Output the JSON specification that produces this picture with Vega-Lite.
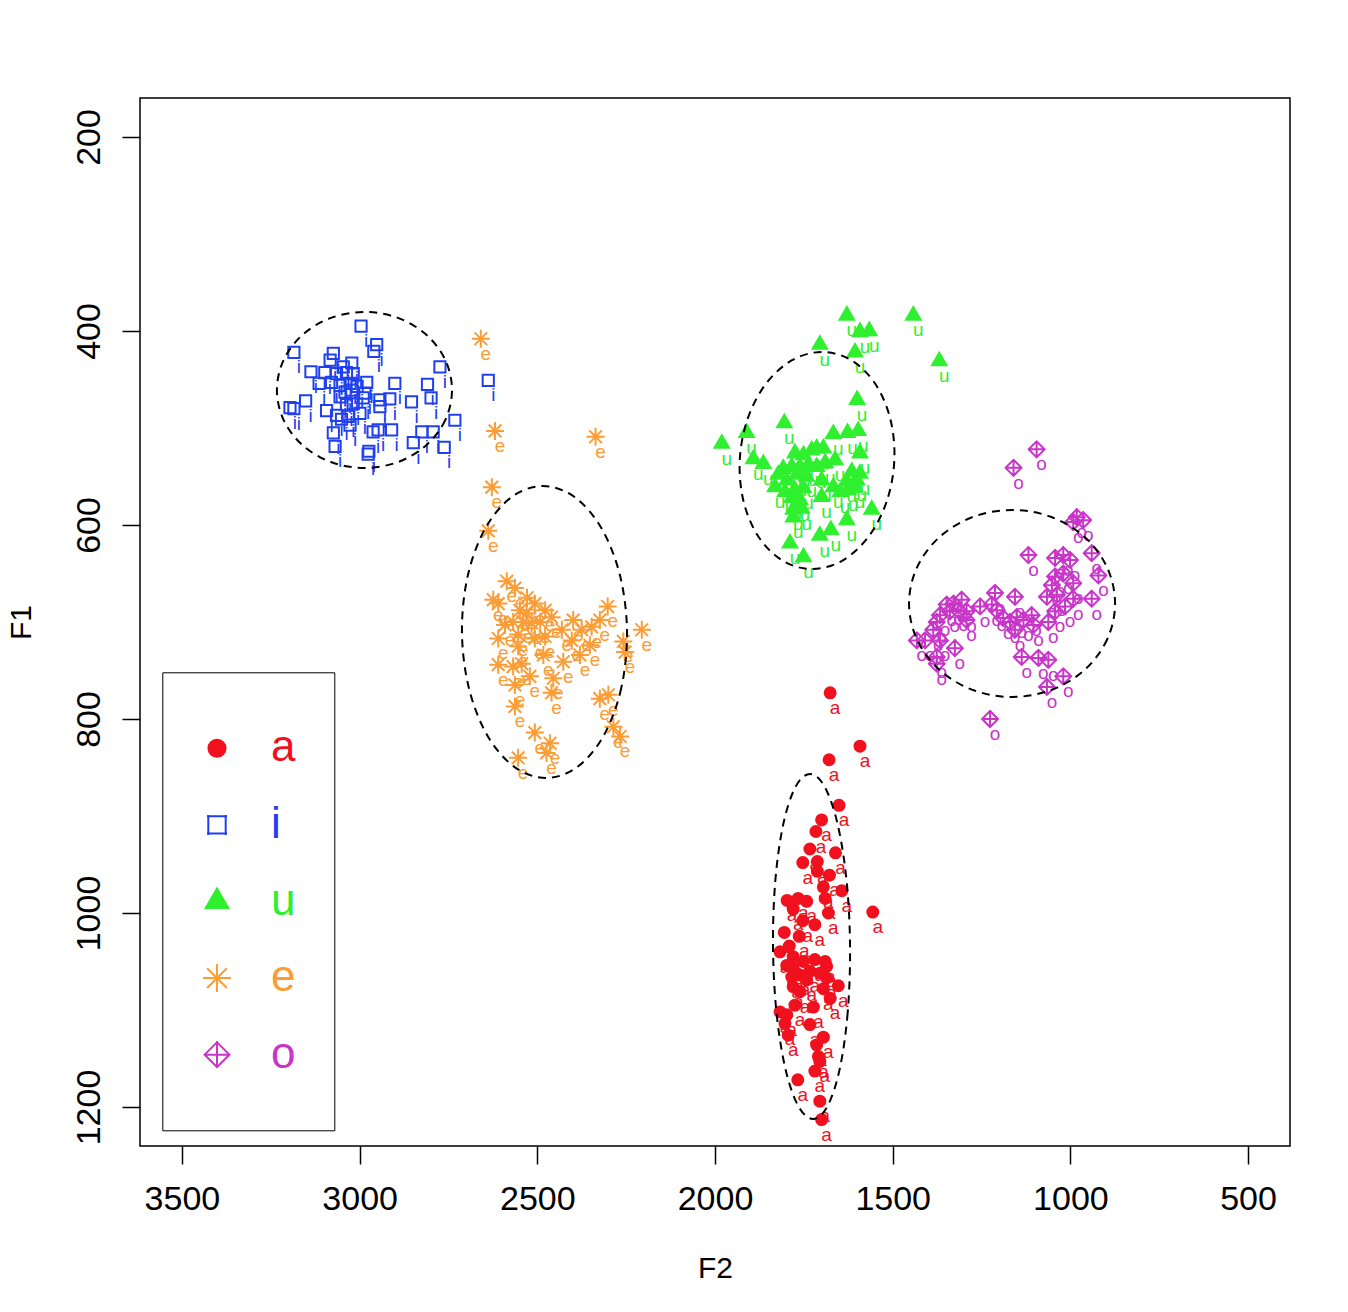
{
"$schema": "https://vega.github.io/schema/vega-lite/v6.json",
"width": 1150, "height": 1048,
"autosize": {"type": "none"},
"padding": {"left": 140, "top": 98, "right": 58, "bottom": 166},
"background": "white",
"config": {"font": "Liberation Sans", "view": {"stroke": "black", "strokeWidth": 1.5}},
"datasets": {
"pts": [
{"v":"a","F2":1676,"F1":773},{"v":"a","F2":1592,"F1":828},{"v":"a","F2":1679,"F1":842},{"v":"a","F2":1651,"F1":889},{"v":"a","F2":1700,"F1":904},{"v":"a","F2":1716,"F1":916},{"v":"a","F2":1733,"F1":934},{"v":"a","F2":1661,"F1":938},{"v":"a","F2":1753,"F1":948},{"v":"a","F2":1712,"F1":947},{"v":"a","F2":1712,"F1":957},{"v":"a","F2":1678,"F1":961},{"v":"a","F2":1695,"F1":973},{"v":"a","F2":1643,"F1":977},{"v":"a","F2":1690,"F1":985},{"v":"a","F2":1797,"F1":987},{"v":"a","F2":1766,"F1":985},{"v":"a","F2":1742,"F1":988},{"v":"a","F2":1780,"F1":996},{"v":"a","F2":1556,"F1":999},{"v":"a","F2":1681,"F1":1000},{"v":"a","F2":1753,"F1":1008},{"v":"a","F2":1719,"F1":1012},{"v":"a","F2":1805,"F1":1020},{"v":"a","F2":1763,"F1":1024},{"v":"a","F2":1791,"F1":1034},{"v":"a","F2":1817,"F1":1040},{"v":"a","F2":1780,"F1":1045},{"v":"a","F2":1751,"F1":1050},{"v":"a","F2":1719,"F1":1048},{"v":"a","F2":1690,"F1":1050},{"v":"a","F2":1798,"F1":1054},{"v":"a","F2":1780,"F1":1057},{"v":"a","F2":1761,"F1":1064},{"v":"a","F2":1733,"F1":1060},{"v":"a","F2":1705,"F1":1062},{"v":"a","F2":1686,"F1":1067},{"v":"a","F2":1784,"F1":1066},{"v":"a","F2":1653,"F1":1075},{"v":"a","F2":1780,"F1":1076},{"v":"a","F2":1761,"F1":1081},{"v":"a","F2":1695,"F1":1078},{"v":"a","F2":1676,"F1":1088},{"v":"a","F2":1775,"F1":1095},{"v":"a","F2":1723,"F1":1097},{"v":"a","F2":1817,"F1":1102},{"v":"a","F2":1798,"F1":1105},{"v":"a","F2":1803,"F1":1114},{"v":"a","F2":1733,"F1":1115},{"v":"a","F2":1794,"F1":1126},{"v":"a","F2":1695,"F1":1128},{"v":"a","F2":1714,"F1":1136},{"v":"a","F2":1709,"F1":1148},{"v":"a","F2":1705,"F1":1153},{"v":"a","F2":1719,"F1":1163},{"v":"a","F2":1767,"F1":1172},{"v":"a","F2":1705,"F1":1194},{"v":"a","F2":1700,"F1":1213},{"v":"a","F2":1742,"F1":1069},{"v":"a","F2":1686,"F1":1055},
{"v":"i","F2":2996,"F1":395},{"v":"i","F2":2952,"F1":414},{"v":"i","F2":2960,"F1":421},{"v":"i","F2":3185,"F1":422},{"v":"i","F2":3074,"F1":423},{"v":"i","F2":3083,"F1":430},{"v":"i","F2":3022,"F1":433},{"v":"i","F2":3046,"F1":437},{"v":"i","F2":2774,"F1":437},{"v":"i","F2":3137,"F1":442},{"v":"i","F2":3098,"F1":443},{"v":"i","F2":3065,"F1":444},{"v":"i","F2":3037,"F1":443},{"v":"i","F2":3018,"F1":444},{"v":"i","F2":3114,"F1":454},{"v":"i","F2":3079,"F1":453},{"v":"i","F2":3055,"F1":456},{"v":"i","F2":3027,"F1":454},{"v":"i","F2":3007,"F1":457},{"v":"i","F2":2980,"F1":453},{"v":"i","F2":2901,"F1":454},{"v":"i","F2":2809,"F1":455},{"v":"i","F2":2985,"F1":464},{"v":"i","F2":3041,"F1":463},{"v":"i","F2":3022,"F1":461},{"v":"i","F2":3055,"F1":468},{"v":"i","F2":2990,"F1":469},{"v":"i","F2":2943,"F1":471},{"v":"i","F2":2915,"F1":470},{"v":"i","F2":2799,"F1":469},{"v":"i","F2":3152,"F1":472},{"v":"i","F2":3196,"F1":479},{"v":"i","F2":3185,"F1":480},{"v":"i","F2":3037,"F1":476},{"v":"i","F2":3018,"F1":475},{"v":"i","F2":2943,"F1":478},{"v":"i","F2":2854,"F1":473},{"v":"i","F2":3093,"F1":482},{"v":"i","F2":3065,"F1":487},{"v":"i","F2":3032,"F1":488},{"v":"i","F2":2999,"F1":485},{"v":"i","F2":3051,"F1":491},{"v":"i","F2":3027,"F1":497},{"v":"i","F2":2732,"F1":492},{"v":"i","F2":3074,"F1":505},{"v":"i","F2":2962,"F1":504},{"v":"i","F2":2948,"F1":502},{"v":"i","F2":2910,"F1":502},{"v":"i","F2":2825,"F1":504},{"v":"i","F2":2793,"F1":504},{"v":"i","F2":2849,"F1":515},{"v":"i","F2":3069,"F1":519},{"v":"i","F2":2762,"F1":520},{"v":"i","F2":2974,"F1":524},{"v":"i","F2":2976,"F1":527},{"v":"i","F2":2638,"F1":451},
{"v":"u","F2":1629,"F1":384},{"v":"u","F2":1442,"F1":384},{"v":"u","F2":1592,"F1":401},{"v":"u","F2":1566,"F1":400},{"v":"u","F2":1606,"F1":422},{"v":"u","F2":1705,"F1":414},{"v":"u","F2":1369,"F1":431},{"v":"u","F2":1600,"F1":471},{"v":"u","F2":1981,"F1":516},{"v":"u","F2":1911,"F1":505},{"v":"u","F2":1805,"F1":495},{"v":"u","F2":1892,"F1":532},{"v":"u","F2":1864,"F1":537},{"v":"u","F2":1667,"F1":506},{"v":"u","F2":1627,"F1":505},{"v":"u","F2":1597,"F1":503},{"v":"u","F2":1775,"F1":526},{"v":"u","F2":1751,"F1":528},{"v":"u","F2":1728,"F1":523},{"v":"u","F2":1714,"F1":521},{"v":"u","F2":1695,"F1":521},{"v":"u","F2":1662,"F1":533},{"v":"u","F2":1592,"F1":526},{"v":"u","F2":1615,"F1":545},{"v":"u","F2":1592,"F1":547},{"v":"u","F2":1808,"F1":542},{"v":"u","F2":1784,"F1":540},{"v":"u","F2":1761,"F1":540},{"v":"u","F2":1737,"F1":538},{"v":"u","F2":1714,"F1":540},{"v":"u","F2":1690,"F1":536},{"v":"u","F2":1822,"F1":548},{"v":"u","F2":1798,"F1":554},{"v":"u","F2":1770,"F1":548},{"v":"u","F2":1742,"F1":550},{"v":"u","F2":1700,"F1":554},{"v":"u","F2":1629,"F1":555},{"v":"u","F2":1601,"F1":554},{"v":"u","F2":1831,"F1":561},{"v":"u","F2":1803,"F1":566},{"v":"u","F2":1775,"F1":564},{"v":"u","F2":1751,"F1":562},{"v":"u","F2":1667,"F1":561},{"v":"u","F2":1648,"F1":566},{"v":"u","F2":1625,"F1":564},{"v":"u","F2":1606,"F1":561},{"v":"u","F2":1784,"F1":572},{"v":"u","F2":1761,"F1":574},{"v":"u","F2":1700,"F1":571},{"v":"u","F2":1780,"F1":584},{"v":"u","F2":1756,"F1":583},{"v":"u","F2":1559,"F1":584},{"v":"u","F2":1780,"F1":592},{"v":"u","F2":1629,"F1":595},{"v":"u","F2":1705,"F1":611},{"v":"u","F2":1674,"F1":605},{"v":"u","F2":1789,"F1":619},{"v":"u","F2":1751,"F1":633},
{"v":"e","F2":2659,"F1":408},{"v":"e","F2":2619,"F1":503},{"v":"e","F2":2336,"F1":509},{"v":"e","F2":2628,"F1":561},{"v":"e","F2":2638,"F1":606},{"v":"e","F2":2586,"F1":658},{"v":"e","F2":2563,"F1":665},{"v":"e","F2":2624,"F1":677},{"v":"e","F2":2610,"F1":681},{"v":"e","F2":2549,"F1":688},{"v":"e","F2":2507,"F1":681},{"v":"e","F2":2530,"F1":691},{"v":"e","F2":2302,"F1":684},{"v":"e","F2":2568,"F1":700},{"v":"e","F2":2540,"F1":700},{"v":"e","F2":2516,"F1":701},{"v":"e","F2":2492,"F1":700},{"v":"e","F2":2460,"F1":695},{"v":"e","F2":2399,"F1":698},{"v":"e","F2":2347,"F1":705},{"v":"e","F2":2431,"F1":708},{"v":"e","F2":2375,"F1":708},{"v":"e","F2":2206,"F1":708},{"v":"e","F2":2610,"F1":717},{"v":"e","F2":2554,"F1":713},{"v":"e","F2":2507,"F1":717},{"v":"e","F2":2478,"F1":715},{"v":"e","F2":2403,"F1":719},{"v":"e","F2":2258,"F1":720},{"v":"e","F2":2253,"F1":731},{"v":"e","F2":2554,"F1":725},{"v":"e","F2":2483,"F1":734},{"v":"e","F2":2380,"F1":734},{"v":"e","F2":2610,"F1":744},{"v":"e","F2":2568,"F1":746},{"v":"e","F2":2544,"F1":743},{"v":"e","F2":2427,"F1":741},{"v":"e","F2":2521,"F1":756},{"v":"e","F2":2563,"F1":765},{"v":"e","F2":2455,"F1":758},{"v":"e","F2":2460,"F1":773},{"v":"e","F2":2324,"F1":779},{"v":"e","F2":2300,"F1":775},{"v":"e","F2":2563,"F1":787},{"v":"e","F2":2286,"F1":808},{"v":"e","F2":2267,"F1":818},{"v":"e","F2":2507,"F1":814},{"v":"e","F2":2464,"F1":825},{"v":"e","F2":2474,"F1":835},{"v":"e","F2":2554,"F1":840},{"v":"e","F2":2529,"F1":675},{"v":"e","F2":2478,"F1":688},{"v":"e","F2":2591,"F1":703},{"v":"e","F2":2324,"F1":698},{"v":"e","F2":2352,"F1":724},
{"v":"o","F2":1095,"F1":522},{"v":"o","F2":1160,"F1":541},{"v":"o","F2":982,"F1":592},{"v":"o","F2":964,"F1":595},{"v":"o","F2":992,"F1":597},{"v":"o","F2":1118,"F1":631},{"v":"o","F2":940,"F1":629},{"v":"o","F2":1043,"F1":634},{"v":"o","F2":1020,"F1":631},{"v":"o","F2":1001,"F1":636},{"v":"o","F2":921,"F1":652},{"v":"o","F2":1043,"F1":653},{"v":"o","F2":1020,"F1":650},{"v":"o","F2":992,"F1":660},{"v":"o","F2":1052,"F1":662},{"v":"o","F2":1066,"F1":674},{"v":"o","F2":1038,"F1":672},{"v":"o","F2":940,"F1":676},{"v":"o","F2":992,"F1":676},{"v":"o","F2":1015,"F1":684},{"v":"o","F2":1043,"F1":689},{"v":"o","F2":1062,"F1":700},{"v":"o","F2":1212,"F1":670},{"v":"o","F2":1156,"F1":674},{"v":"o","F2":1221,"F1":682},{"v":"o","F2":1254,"F1":684},{"v":"o","F2":1306,"F1":677},{"v":"o","F2":1329,"F1":681},{"v":"o","F2":1348,"F1":682},{"v":"o","F2":1339,"F1":689},{"v":"o","F2":1315,"F1":688},{"v":"o","F2":1292,"F1":689},{"v":"o","F2":1367,"F1":693},{"v":"o","F2":1376,"F1":700},{"v":"o","F2":1292,"F1":698},{"v":"o","F2":1207,"F1":688},{"v":"o","F2":1189,"F1":696},{"v":"o","F2":1170,"F1":700},{"v":"o","F2":1151,"F1":695},{"v":"o","F2":1132,"F1":698},{"v":"o","F2":1109,"F1":693},{"v":"o","F2":1104,"F1":703},{"v":"o","F2":1156,"F1":708},{"v":"o","F2":1386,"F1":708},{"v":"o","F2":1432,"F1":719},{"v":"o","F2":1409,"F1":719},{"v":"o","F2":1367,"F1":719},{"v":"o","F2":1325,"F1":727},{"v":"o","F2":1376,"F1":736},{"v":"o","F2":1376,"F1":743},{"v":"o","F2":1137,"F1":736},{"v":"o","F2":1090,"F1":737},{"v":"o","F2":1062,"F1":739},{"v":"o","F2":1066,"F1":767},{"v":"o","F2":1020,"F1":756},{"v":"o","F2":1226,"F1":800}
],
"ell": [
{"g":"i","k":0,"F2":2740.1,"F1":460.8},{"g":"i","k":1,"F2":2758.8,"F1":491.6},{"g":"i","k":2,"F2":2812.2,"F1":517.7},{"g":"i","k":3,"F2":2892.1,"F1":535.1},{"g":"i","k":4,"F2":2986.4,"F1":541.2},{"g":"i","k":5,"F2":3080.7,"F1":535.1},{"g":"i","k":6,"F2":3160.6,"F1":517.7},{"g":"i","k":7,"F2":3214.0,"F1":491.6},{"g":"i","k":8,"F2":3232.7,"F1":460.8},{"g":"i","k":9,"F2":3214.0,"F1":430.0},{"g":"i","k":10,"F2":3160.6,"F1":403.9},{"g":"i","k":11,"F2":3080.7,"F1":386.5},{"g":"i","k":12,"F2":2986.4,"F1":380.4},{"g":"i","k":13,"F2":2892.1,"F1":386.5},{"g":"i","k":14,"F2":2812.2,"F1":403.9},{"g":"i","k":15,"F2":2758.8,"F1":430.0},
{"g":"e","k":0,"F2":2247.6,"F1":710.3},{"g":"e","k":1,"F2":2263.7,"F1":767.9},{"g":"e","k":2,"F2":2312.6,"F1":816.7},{"g":"e","k":3,"F2":2387.0,"F1":849.3},{"g":"e","k":4,"F2":2475.6,"F1":860.8},{"g":"e","k":5,"F2":2564.8,"F1":849.3},{"g":"e","k":6,"F2":2641.0,"F1":816.7},{"g":"e","k":7,"F2":2692.7,"F1":767.9},{"g":"e","k":8,"F2":2712.0,"F1":710.3},{"g":"e","k":9,"F2":2695.9,"F1":652.7},{"g":"e","k":10,"F2":2647.0,"F1":603.9},{"g":"e","k":11,"F2":2572.6,"F1":571.3},{"g":"e","k":12,"F2":2484.0,"F1":559.8},{"g":"e","k":13,"F2":2394.8,"F1":571.3},{"g":"e","k":14,"F2":2318.6,"F1":603.9},{"g":"e","k":15,"F2":2266.9,"F1":652.7},
{"g":"u","k":0,"F2":1495.4,"F1":533.5},{"g":"u","k":1,"F2":1517.4,"F1":576.3},{"g":"u","k":2,"F2":1569.1,"F1":612.6},{"g":"u","k":3,"F2":1642.7,"F1":636.9},{"g":"u","k":4,"F2":1727.0,"F1":645.4},{"g":"u","k":5,"F2":1809.1,"F1":636.9},{"g":"u","k":6,"F2":1876.7,"F1":612.6},{"g":"u","k":7,"F2":1919.2,"F1":576.3},{"g":"u","k":8,"F2":1930.4,"F1":533.5},{"g":"u","k":9,"F2":1908.4,"F1":490.7},{"g":"u","k":10,"F2":1856.7,"F1":454.4},{"g":"u","k":11,"F2":1783.1,"F1":430.1},{"g":"u","k":12,"F2":1698.8,"F1":421.6},{"g":"u","k":13,"F2":1616.7,"F1":430.1},{"g":"u","k":14,"F2":1549.1,"F1":454.4},{"g":"u","k":15,"F2":1506.6,"F1":490.7},
{"g":"o","k":0,"F2":874.2,"F1":680.9},{"g":"o","k":1,"F2":896.3,"F1":717.8},{"g":"o","k":2,"F2":959.1,"F1":749.1},{"g":"o","k":3,"F2":1053.2,"F1":770.0},{"g":"o","k":4,"F2":1164.1,"F1":777.3},{"g":"o","k":5,"F2":1275.0,"F1":770.0},{"g":"o","k":6,"F2":1369.1,"F1":749.1},{"g":"o","k":7,"F2":1431.9,"F1":717.8},{"g":"o","k":8,"F2":1454.0,"F1":680.9},{"g":"o","k":9,"F2":1431.9,"F1":644.0},{"g":"o","k":10,"F2":1369.1,"F1":612.7},{"g":"o","k":11,"F2":1275.0,"F1":591.8},{"g":"o","k":12,"F2":1164.1,"F1":584.5},{"g":"o","k":13,"F2":1053.2,"F1":591.8},{"g":"o","k":14,"F2":959.1,"F1":612.7},{"g":"o","k":15,"F2":896.3,"F1":644.0},
{"g":"a","k":0,"F2":1620.0,"F1":1034.5},{"g":"a","k":1,"F2":1626.6,"F1":1102.5},{"g":"a","k":2,"F2":1648.7,"F1":1160.2},{"g":"a","k":3,"F2":1683.0,"F1":1198.8},{"g":"a","k":4,"F2":1724.2,"F1":1212.3},{"g":"a","k":5,"F2":1766.0,"F1":1198.8},{"g":"a","k":6,"F2":1802.1,"F1":1160.2},{"g":"a","k":7,"F2":1827.0,"F1":1102.5},{"g":"a","k":8,"F2":1836.8,"F1":1034.5},{"g":"a","k":9,"F2":1830.2,"F1":966.5},{"g":"a","k":10,"F2":1808.1,"F1":908.8},{"g":"a","k":11,"F2":1773.8,"F1":870.2},{"g":"a","k":12,"F2":1732.6,"F1":856.7},{"g":"a","k":13,"F2":1690.8,"F1":870.2},{"g":"a","k":14,"F2":1654.7,"F1":908.8},{"g":"a","k":15,"F2":1629.8,"F1":966.5}
]
},
"encoding": {
"x": {"field": "F2", "type": "quantitative",
 "scale": {"domain": [382, 3618], "reverse": true, "nice": false, "zero": false},
 "axis": {"title": "F2", "values": [3500, 3000, 2500, 2000, 1500, 1000, 500], "format": "d", "grid": false, "domain": false,
  "tickSize": 18, "tickWidth": 1.5, "tickColor": "black", "labelFontSize": 34, "labelColor": "black", "labelPadding": 18,
  "labelFlush": false, "labelOverlap": false, "titleFontSize": 30, "titleFontWeight": "normal", "titleColor": "black",
  "titleBaseline": "alphabetic", "titleAlign": "center", "titleX": 575, "titleY": 131}},
"y": {"field": "F1", "type": "quantitative",
 "scale": {"domain": [159.8, 1240.2], "reverse": true, "nice": false, "zero": false},
 "axis": {"title": "F1", "values": [200, 400, 600, 800, 1000, 1200], "format": "d", "grid": false, "domain": false,
  "tickSize": 18, "tickWidth": 1.5, "tickColor": "black", "labelFontSize": 34, "labelColor": "black", "labelPadding": 16,
  "labelAngle": 270, "labelAlign": "center", "labelBaseline": "bottom",
  "labelFlush": false, "labelOverlap": false, "titleFontSize": 30, "titleFontWeight": "normal", "titleColor": "black",
  "titleAngle": 270, "titleBaseline": "alphabetic", "titleAlign": "center", "titleX": -110, "titleY": 524}}
},
"layer": [
{"data": {"name": "pts"},
 "mark": {"type": "point", "filled": false, "fill": "transparent", "strokeWidth": 2, "size": 2266, "opacity": 1},
 "encoding": {
  "stroke": {"field": "v", "type": "nominal",
   "scale": {"domain": ["a", "i", "u", "e", "o"], "range": ["#F0101E", "#2040F0", "#2EF02E", "#FC9C35", "#C935C9"]},
   "legend": {"orient": "none", "legendX": 22.3, "legendY": 574.3, "direction": "vertical", "title": null,
    "padding": 38, "strokeColor": "black", "symbolSize": 5476, "symbolStrokeWidth": 2, "symbolFillColor": "transparent",
    "symbolOffset": -21.3, "labelOffset": 16, "rowPadding": 0.6, "labelFontSize": 44, "labelFont": "Liberation Sans",
    "labelColor": {"expr": "scale('stroke', datum.value)"}}},
  "shape": {"field": "v", "type": "nominal",
   "scale": {"domain": ["a", "i", "u", "e", "o"], "range": [
    "M0,0.9M-0.231,0A0.231,0.231,0,1,0,0.231,0A0.231,0.231,0,1,0,-0.231,0ZM-0.185,0A0.185,0.185,0,1,0,0.185,0A0.185,0.185,0,1,0,-0.185,0ZM-0.139,0A0.139,0.139,0,1,0,0.139,0A0.139,0.139,0,1,0,-0.139,0ZM-0.093,0A0.093,0.093,0,1,0,0.093,0A0.093,0.093,0,1,0,-0.093,0ZM-0.047,0A0.047,0.047,0,1,0,0.047,0A0.047,0.047,0,1,0,-0.047,0ZM-0.02,0L0.02,0",
    "M0,0.9M-0.27,-0.235L0.27,-0.235M0.235,-0.27L0.235,0.27M0.27,0.235L-0.27,0.235M-0.235,0.27L-0.235,-0.27",
    "M0,0.9M0,-0.352L0.305,0.176L-0.305,0.176ZM0,-0.282L0.244,0.141L-0.244,0.141ZM0,-0.211L0.183,0.106L-0.183,0.106ZM0,-0.141L0.122,0.07L-0.122,0.07ZM0,-0.07L0.061,0.035L-0.061,0.035Z",
    "M0,0.9M-0.378,0L0.378,0M0,-0.378L0,0.378M-0.267,-0.267L0.267,0.267M-0.267,0.267L0.267,-0.267",
    "M0,0.9M-0.018,-0.354L0.354,0.018M0.354,-0.018L-0.018,0.354M0.018,0.354L-0.354,-0.018M-0.354,0.018L0.018,-0.354M-0.336,0L0.336,0M0,-0.336L0,0.336"]},
   "legend": {"orient": "none", "legendX": 22.3, "legendY": 574.3, "direction": "vertical", "title": null,
    "padding": 38, "strokeColor": "black", "symbolSize": 5476, "symbolStrokeWidth": 2, "symbolFillColor": "transparent",
    "symbolOffset": -21.3, "labelOffset": 16, "rowPadding": 0.6, "labelFontSize": 44, "labelFont": "Liberation Sans",
    "labelColor": {"expr": "scale('stroke', datum.value)"}}}
 }},
{"data": {"name": "pts"},
 "mark": {"type": "text", "dx": 5, "dy": 21, "baseline": "alphabetic", "align": "center", "fontSize": 19},
 "encoding": {
  "text": {"field": "v"},
  "fill": {"field": "v", "type": "nominal",
   "scale": {"domain": ["a", "i", "u", "e", "o"], "range": ["#F0101E", "#2040F0", "#2EF02E", "#FC9C35", "#C935C9"]},
   "legend": null}
 }},
{"data": {"name": "ell"},
 "mark": {"type": "line", "interpolate": "cardinal-closed", "color": "black", "strokeWidth": 2, "strokeDash": [8, 6]},
 "encoding": {
  "detail": {"field": "g"},
  "order": {"field": "k", "type": "quantitative"}
 }}
]
}
